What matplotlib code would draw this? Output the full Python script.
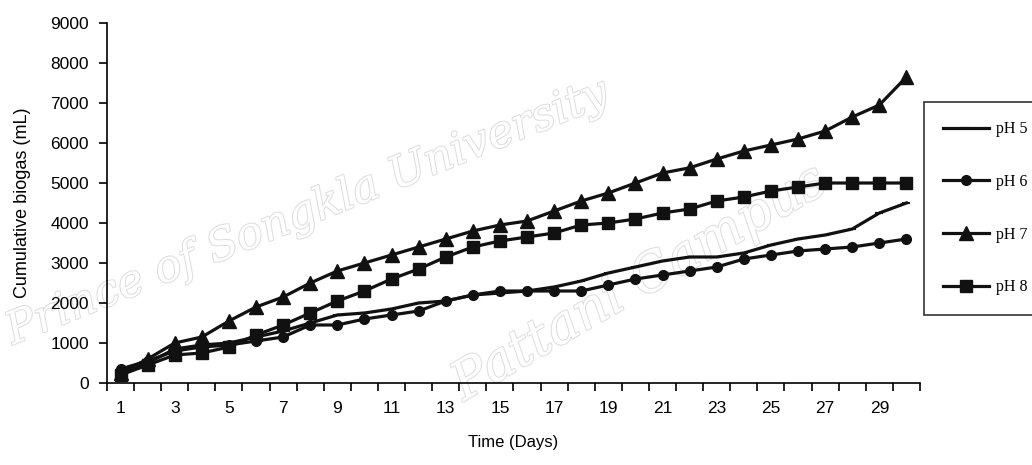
import numpy as np
import matplotlib.pyplot as plt
import matplotlib.patheffects as pe

days = np.arange(1, 31)

ph5 = [250, 500, 850, 950, 1000, 1150, 1300, 1500, 1700, 1750,
       1850, 2000, 2050, 2200, 2250, 2300, 2400, 2550, 2750, 2900,
       3050, 3150, 3150, 3250, 3450, 3600, 3700, 3850, 4250, 4500]
ph6 = [350, 550, 800, 900, 950, 1050, 1150, 1450, 1450, 1600,
       1700, 1800, 2050, 2200, 2300, 2300, 2300, 2300, 2450, 2600,
       2700, 2800, 2900, 3100, 3200, 3300, 3350, 3400, 3500, 3600]
ph7 = [250, 600, 1000, 1150, 1550, 1900, 2150, 2500, 2800, 3000,
       3200, 3400, 3600, 3800, 3950, 4050, 4300, 4550, 4750, 5000,
       5250, 5380, 5600, 5800, 5950, 6100, 6300, 6650, 6950, 7650]
ph8 = [200, 450, 700, 750, 900, 1200, 1450, 1750, 2050, 2300,
       2600, 2850, 3150, 3400, 3550, 3650, 3750, 3950, 4000, 4100,
       4250, 4350, 4550, 4650, 4800, 4900, 5000, 5000, 5000, 5000]

yticks = np.arange(0, 9001, 1000)
xlabels = np.arange(1, 30, 2)

fig = plt.figure(figsize=(10.32, 4.65), dpi=100)
ax = fig.add_axes([107/1032, 1-383/465, (920-107)/1032, 360/465])

lw = 2.3
c = "#111111"
ax.plot(days, ph5, color=c, lw=lw, marker="_", ms=6, mew=1.5, label="pH 5")
ax.plot(days, ph6, color=c, lw=lw, marker="o", ms=7, label="pH 6")
ax.plot(days, ph7, color=c, lw=lw, marker="^", ms=10, label="pH 7")
ax.plot(days, ph8, color=c, lw=lw, marker="s", ms=8, label="pH 8")

ax.set_xlim(0.5, 30.5)
ax.set_ylim(0, 9000)
ax.set_yticks(yticks)
ax.set_yticklabels([str(v) for v in yticks], fontsize=12.5, family="Liberation Sans")
ax.set_xticks(np.arange(0.5, 31, 1))
ax.set_xticklabels([])
ax.set_xticks(xlabels, minor=True)
ax.set_xticklabels([str(v) for v in xlabels], minor=True, fontsize=12.5, family="Liberation Sans")
ax.tick_params(axis="x", which="major", direction="out", length=6, width=1.2)
ax.tick_params(axis="x", which="minor", length=0, pad=13)
ax.tick_params(axis="y", direction="out", length=6, width=1.2, pad=7)
for s in ["top", "right"]:
    ax.spines[s].set_visible(False)
for s in ["left", "bottom"]:
    ax.spines[s].set_linewidth(1.2)

ax.set_xlabel("Time (Days)", fontsize=12, family="Liberation Sans", labelpad=14)
ax.set_ylabel("Cumulative biogas (mL)", fontsize=13, family="Liberation Sans", labelpad=14)

leg = fig.legend(loc="upper left", bbox_to_anchor=(924/1032, 1-102/465),
                 prop={"family": "Liberation Serif", "size": 11.5},
                 frameon=True, fancybox=False, edgecolor="black",
                 handlelength=2.9, labelspacing=2.3, borderpad=1.2,
                 handletextpad=0.4, borderaxespad=0)
leg.get_frame().set_linewidth(1.2)

# watermark, under the lines
wm = dict(color="white", family="DejaVu Serif", style="italic",
          transform=fig.transFigure, zorder=0.5, clip_on=False,
          path_effects=[pe.withStroke(linewidth=1.5, foreground="#dedede")])
ax.text(0.0, 0.26, "Prince of Songkla University", rotation=22, fontsize=32, **wm)
ax.text(0.43, 0.14, "Pattani Campus", rotation=30, fontsize=38, **wm)

plt.savefig("out.png", dpi=100)
